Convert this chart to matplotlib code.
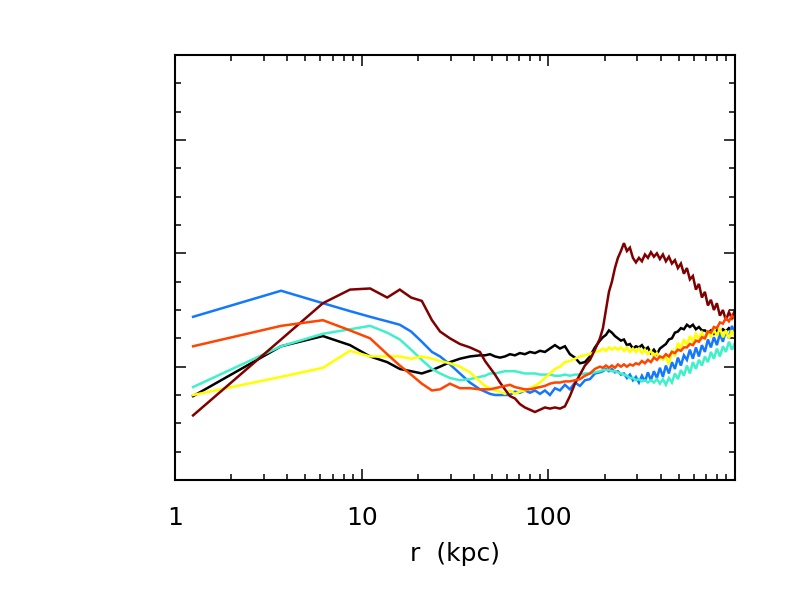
"""Radial profiles of six runs vs r (kpc), log x axis, unlabeled y axis."""

import matplotlib

matplotlib.use("Agg")
import matplotlib.pyplot as plt
from matplotlib.ticker import FixedLocator, LogLocator, MultipleLocator, NullFormatter

# radial bins (kpc): coarse inner bins, then finer outer bins
R_KPC = [1.25, 3.70, 6.20, 8.66, 11.1, 13.7, 16.0, 18.4, 21.0, 23.8, 26.3, 29.7, 33.6, 38.0,
         43.0, 45.8, 48.7, 51.8, 55.1, 58.5, 62.3, 66.2, 70.4, 74.9,
         79.7, 84.8, 90.2, 95.9, 102.0, 108.5, 115.4, 122.7, 130.5, 138.8,
         147.7, 157.0, 167.1, 177.7, 189.0,
         196.1, 203.5, 211.2, 219.1, 227.4, 235.9, 244.8, 254.1, 263.6, 273.5,
         283.9, 294.6, 305.7, 317.2, 329.2, 341.6, 354.4, 367.8, 381.6, 396.0,
         410.9, 426.4, 442.5, 459.2, 476.5, 494.4, 513.1, 532.4, 552.5, 573.3,
         594.9, 617.4, 640.6, 664.8, 689.9, 715.9, 742.9, 770.9, 799.9, 830.1,
         861.4, 893.9, 927.6, 962.5, 1000.0]

BLACK = [0.74, 1.18, 1.27, 1.19, 1.09, 1.04, 0.98, 0.96, 0.94, 0.97, 1.00, 1.04, 1.07, 1.09,
         1.10, 1.10, 1.11, 1.09, 1.08, 1.09, 1.11, 1.10, 1.12, 1.11,
         1.13, 1.12, 1.14, 1.13, 1.16, 1.19, 1.16, 1.18, 1.11, 1.08,
         1.03, 1.04, 1.09, 1.17, 1.23,
         1.26, 1.28, 1.32, 1.30, 1.27, 1.25, 1.23, 1.24, 1.19, 1.20,
         1.16, 1.18, 1.17, 1.19, 1.15, 1.17, 1.12, 1.15, 1.11, 1.16,
         1.18, 1.20, 1.24, 1.25, 1.30, 1.31, 1.34, 1.33, 1.37, 1.35,
         1.37, 1.33, 1.35, 1.32, 1.32, 1.30, 1.32, 1.29, 1.32, 1.30,
         1.33, 1.31, 1.34, 1.32, 1.33]

BLUE = [1.44, 1.67, 1.56, 1.49, 1.44, 1.40, 1.37, 1.31, 1.22, 1.13, 1.09, 1.02, 0.94, 0.86,
        0.80, 0.78, 0.76, 0.75, 0.75, 0.75, 0.75, 0.78, 0.77, 0.79,
        0.77, 0.79, 0.76, 0.79, 0.75, 0.81, 0.79, 0.84, 0.80, 0.86,
        0.83, 0.88, 0.89, 0.94, 0.95,
        0.96, 0.98, 0.96, 0.98, 0.95, 0.96, 0.93, 0.94, 0.90, 0.93,
        0.88, 0.91, 0.86, 0.92, 0.87, 0.95, 0.88, 0.96, 0.90, 0.99,
        0.91, 1.01, 0.94, 1.04, 0.98, 1.08, 1.01, 1.10, 1.06, 1.15,
        1.07, 1.17, 1.09, 1.19, 1.13, 1.24, 1.17, 1.26, 1.19, 1.29,
        1.22, 1.32, 1.25, 1.36, 1.29]

CYAN = [0.82, 1.18, 1.29, 1.33, 1.36, 1.30, 1.24, 1.15, 1.06, 0.98, 0.94, 0.90, 0.88, 0.89,
        0.91, 0.92, 0.94, 0.94, 0.95, 0.96, 0.96, 0.96, 0.95, 0.94,
        0.94, 0.94, 0.93, 0.93, 0.93, 0.92, 0.92, 0.93, 0.92, 0.93,
        0.93, 0.94, 0.94, 0.95, 0.96,
        0.97, 0.97, 0.97, 0.96, 0.96, 0.95, 0.94, 0.93, 0.92, 0.90,
        0.90, 0.88, 0.89, 0.87, 0.88, 0.86, 0.88, 0.86, 0.89, 0.85,
        0.89, 0.84, 0.90, 0.86, 0.94, 0.89, 0.97, 0.92, 1.01, 0.94,
        1.04, 0.98, 1.06, 1.01, 1.09, 1.04, 1.13, 1.07, 1.16, 1.09,
        1.18, 1.13, 1.22, 1.15, 1.21]

YELLOW = [0.75, 0.91, 0.99, 1.14, 1.09, 1.09, 1.09, 1.07, 1.09, 1.07, 1.05, 1.03, 1.00, 0.95,
          0.87, 0.83, 0.81, 0.79, 0.78, 0.76, 0.79, 0.76, 0.78, 0.79,
          0.81, 0.83, 0.86, 0.90, 0.94, 0.98, 1.00, 1.04, 1.05, 1.07,
          1.09, 1.10, 1.11, 1.13, 1.14,
          1.16, 1.14, 1.17, 1.15, 1.17, 1.15, 1.17, 1.14, 1.17, 1.13,
          1.16, 1.13, 1.16, 1.12, 1.15, 1.11, 1.14, 1.09, 1.12, 1.08,
          1.06, 1.09, 1.02, 1.15, 1.09, 1.21, 1.16, 1.24, 1.19, 1.27,
          1.22, 1.29, 1.24, 1.30, 1.24, 1.32, 1.26, 1.33, 1.27, 1.34,
          1.26, 1.32, 1.25, 1.32, 1.26]

ORANGE = [1.18, 1.36, 1.41, 1.32, 1.25, 1.11, 1.01, 0.93, 0.85, 0.79, 0.80, 0.85, 0.81, 0.81,
          0.80, 0.80, 0.80, 0.81, 0.82, 0.83, 0.84, 0.82, 0.81, 0.80,
          0.80, 0.81, 0.82, 0.83, 0.85, 0.86, 0.86, 0.87, 0.87, 0.88,
          0.89, 0.92, 0.94, 0.98, 1.00,
          0.99, 1.01, 0.99, 1.01, 0.99, 1.02, 1.00, 1.02, 1.00, 1.02,
          1.01, 1.03, 1.02, 1.05, 1.03, 1.06, 1.04, 1.08, 1.06, 1.09,
          1.08, 1.11, 1.09, 1.13, 1.12, 1.15, 1.14, 1.17, 1.17, 1.20,
          1.19, 1.23, 1.22, 1.26, 1.25, 1.31, 1.30, 1.35, 1.34, 1.39,
          1.38, 1.43, 1.40, 1.45, 1.42]

DARKRED = [0.57, 1.24, 1.56, 1.68, 1.69, 1.61, 1.68, 1.61, 1.58, 1.41, 1.31, 1.25, 1.20, 1.17,
           1.13, 1.05, 0.99, 0.93, 0.86, 0.80, 0.74, 0.72, 0.67, 0.64,
           0.62, 0.60, 0.62, 0.64, 0.63, 0.64, 0.63, 0.65, 0.74, 0.85,
           0.93, 1.01, 1.06, 1.15, 1.25,
           1.34, 1.50, 1.66, 1.75, 1.87, 1.96, 2.02, 2.09, 2.02, 2.05,
           1.96, 1.92, 1.96, 1.93, 1.99, 1.96, 2.01, 1.97, 2.00, 1.95,
           1.99, 1.93, 1.97, 1.91, 1.94, 1.87, 1.91, 1.82, 1.87, 1.77,
           1.80, 1.68, 1.73, 1.61, 1.66, 1.54, 1.59, 1.50, 1.56, 1.45,
           1.50, 1.41, 1.48, 1.43, 1.50]

SERIES = [
    (BLACK, "#000000"),
    (BLUE, "#1478ff"),
    (CYAN, "#40f0c8"),
    (YELLOW, "#ffff00"),
    (DARKRED, "#800000"),
    (ORANGE, "#ff4500"),
]

X_TICKS = [1, 10, 100]
X_TICK_LABELS = ["1", "10", "100"]

plt.rcParams.update({
    "font.family": "DejaVu Sans",
    "font.size": 18,
})


def main():
    fig = plt.figure(figsize=(7.86, 5.91), dpi=100)
    ax = fig.add_axes([175 / 786, 1 - 480 / 591, 560 / 786, 425 / 591])

    for values, color in SERIES:
        ax.plot(R_KPC, values, color=color, lw=1.8, solid_joinstyle="miter")

    ax.set_xscale("log")
    ax.set_xlim(1, 1000)
    ax.set_ylim(0, 3.75)

    ax.xaxis.set_major_locator(FixedLocator(X_TICKS))
    ax.set_xticklabels(X_TICK_LABELS)
    ax.xaxis.set_minor_locator(LogLocator(base=10, subs=range(2, 10)))
    ax.xaxis.set_minor_formatter(NullFormatter())
    ax.yaxis.set_major_locator(MultipleLocator(1))
    ax.yaxis.set_minor_locator(MultipleLocator(0.25))
    ax.set_yticklabels([])

    ax.tick_params(which="both", direction="in", top=True, right=True,
                   width=1.1, color="black")
    ax.tick_params(which="major", length=8)
    ax.tick_params(which="minor", length=4)
    ax.tick_params(axis="x", which="major", pad=19, labelsize=18)
    for spine in ax.spines.values():
        spine.set_linewidth(1.5)

    ax.set_xlabel("r  (kpc)", fontsize=18, labelpad=8)

    fig.savefig("out.png", dpi=100)
    plt.close(fig)


if __name__ == "__main__":
    main()
